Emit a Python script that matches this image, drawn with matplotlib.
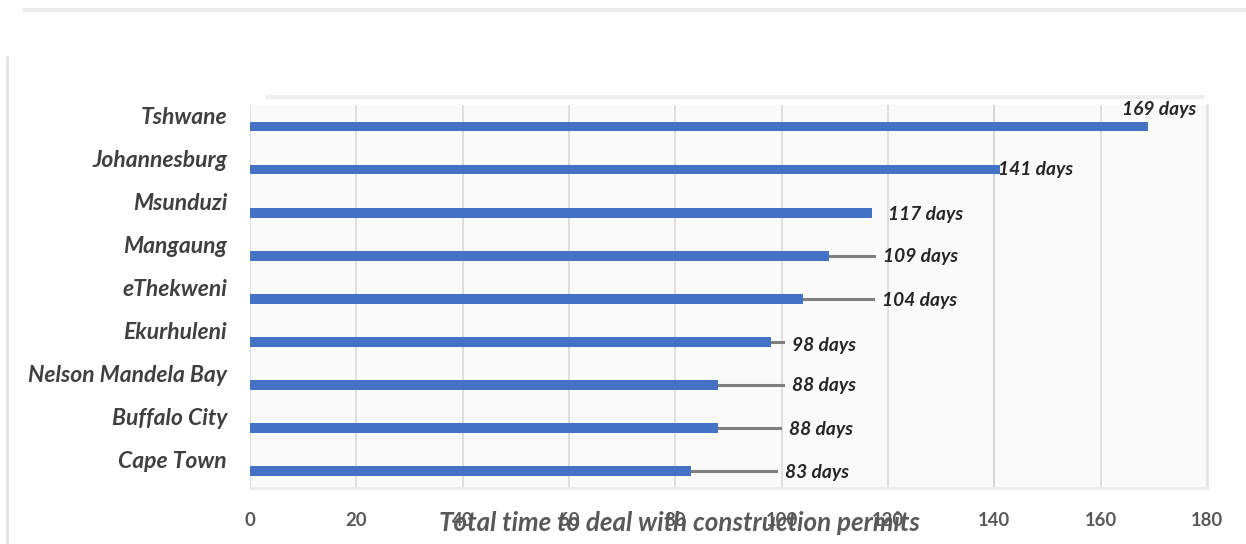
import matplotlib
matplotlib.use("Agg")
import matplotlib.pyplot as plt
from matplotlib.lines import Line2D

# --- Data ---
cities = ["Tshwane", "Johannesburg", "Msunduzi", "Mangaung", "eThekweni",
          "Ekurhuleni", "Nelson Mandela Bay", "Buffalo City", "Cape Town"]
days = [169, 141, 117, 109, 104, 98, 88, 88, 83]
ticks = [0, 20, 40, 60, 80, 100, 120, 140, 160, 180]

# where each value label starts (offset from the bar end, in days) and its vertical nudge
label_dx = [-5, -0.3, 3, 10, 14.9, 4, 14, 13.4, 17.6]
label_dy = [-0.40, 0.0, 0.05, 0.03, 0.05, 0.1, 0.03, 0.05, 0.05]

blue = "#4472C4"
fam = ["Lato", "DejaVu Sans"]

fig = plt.figure(figsize=(12.46, 5.44), dpi=100)
ax = fig.add_axes([0.2006, 0.103, 0.768, 0.704])
ax.set_facecolor("#fafafa")

y = list(range(len(cities)))
ax.barh(y, days, height=0.23, color=blue, zorder=3)

ax.set_xlim(0, 180)
ax.set_ylim(8.4, -0.5)
ax.set_xticks(ticks)
ax.set_xticklabels([str(t) for t in ticks], fontfamily=fam, fontweight="bold",
                   fontsize=13.3, color="#595959")
ax.tick_params(axis="x", length=0, pad=17)
ax.tick_params(axis="y", length=0)
ax.set_yticks([])
ax.grid(axis="x", color="#d9d9d9", linewidth=1.2, zorder=0)
ax.axvline(140, color="#c8c8c8", linewidth=1.4, zorder=1)
for s in ["top", "left"]:
    ax.spines[s].set_visible(False)
ax.spines["right"].set_color("#e6e6e6")
ax.spines["right"].set_linewidth(2)
ax.spines["bottom"].set_color("#ececec")
ax.spines["bottom"].set_linewidth(2)

# category names sit a little above their bars
for i, name in enumerate(cities):
    ax.text(-4.3, i - 0.21, name, ha="right", va="center", fontfamily=fam,
            fontstyle="italic", fontweight="bold", fontsize=16.5, color="#404040")

# value labels, with grey leader lines where the label is pushed away
for i, v in enumerate(days):
    lx = v + label_dx[i]
    if label_dx[i] > 3.5:
        ax.plot([v, lx - 1.7], [i, i], color="#7f7f7f", linewidth=2.2, zorder=2)
    ax.text(lx, i + label_dy[i], f"{v} days", ha="left", va="center",
            fontfamily=fam, fontstyle="italic", fontweight="bold",
            fontsize=13.8, color="#262626", zorder=4)

fig.text(0.545, 0.024, "Total time to deal with construction permits", ha="center",
         va="baseline", fontfamily=fam, fontstyle="italic", fontweight="bold",
         fontsize=18.7, color="#595959")

# faint outer frame of the chart box
fig.add_artist(Line2D([0.02, 1.0], [0.982, 0.982], color="#ebebeb", linewidth=3))
fig.add_artist(Line2D([0.006, 0.006], [0.0, 0.895], color="#e3e3e3", linewidth=2))
fig.add_artist(Line2D([0.215, 0.965], [0.822, 0.822], color="#eeeeee", linewidth=3))

fig.savefig("out.png", dpi=100, facecolor="white")
